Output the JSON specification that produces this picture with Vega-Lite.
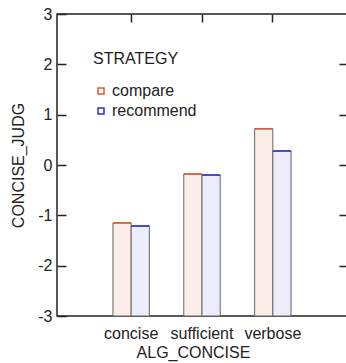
{
  "$schema": "https://vega.github.io/schema/vega-lite/v6.json",
  "width": 290,
  "height": 302,
  "autosize": "none",
  "padding": {"left": 57, "top": 14, "right": 0, "bottom": 47},
  "config": {
    "font": "Liberation Sans",
    "view": {"stroke": "#222", "strokeWidth": 1.5},
    "axis": {
      "labelFontSize": 16,
      "titleFontSize": 16,
      "titleFontWeight": "normal",
      "labelColor": "#222",
      "titleColor": "#222",
      "grid": false,
      "domain": false,
      "ticks": true,
      "tickColor": "#222",
      "tickWidth": 1.5,
      "zindex": 2
    }
  },
  "data": {
    "values": [
      {"ALG_CONCISE": "concise", "STRATEGY": "compare", "CONCISE_JUDG": -1.15},
      {"ALG_CONCISE": "concise", "STRATEGY": "recommend", "CONCISE_JUDG": -1.21},
      {"ALG_CONCISE": "sufficient", "STRATEGY": "compare", "CONCISE_JUDG": -0.18},
      {"ALG_CONCISE": "sufficient", "STRATEGY": "recommend", "CONCISE_JUDG": -0.2},
      {"ALG_CONCISE": "verbose", "STRATEGY": "compare", "CONCISE_JUDG": 0.72},
      {"ALG_CONCISE": "verbose", "STRATEGY": "recommend", "CONCISE_JUDG": 0.28}
    ]
  },
  "layer": [
    {
      "mark": {"type": "bar", "stroke": "#666", "strokeWidth": 1},
      "encoding": {
        "x": {
          "field": "ALG_CONCISE",
          "type": "nominal",
          "sort": ["concise", "sufficient", "verbose"],
          "scale": {"paddingInner": 0.486, "paddingOuter": 0.79},
          "axis": {
            "orient": "bottom",
            "title": "ALG_CONCISE",
            "labelAngle": 0,
            "ticks": false,
            "tickSize": 0,
            "labelPadding": 9,
            "titleX": 136,
            "titleY": 41,
            "titleBaseline": "alphabetic",
            "titleAlign": "center"
          }
        },
        "xOffset": {
          "field": "STRATEGY",
          "type": "nominal",
          "scale": {"paddingInner": 0, "paddingOuter": 0}
        },
        "y": {
          "field": "CONCISE_JUDG",
          "type": "quantitative",
          "scale": {"domain": [-3, 3], "nice": false, "zero": false},
          "axis": {
            "orient": "left",
            "values": [-3, -2, -1, 0, 1, 2, 3],
            "labelExpr": "'' + datum.value",
            "ticks": true,
            "tickSize": -9,
            "labelPadding": 14,
            "title": "CONCISE_JUDG",
            "titleX": -39,
            "titleY": 151,
            "titleAngle": -90,
            "titleBaseline": "middle",
            "titleAlign": "center"
          }
        },
        "y2": {"datum": -3},
        "fill": {
          "field": "STRATEGY",
          "type": "nominal",
          "scale": {"range": ["#fcede8", "#ececfb"]},
          "legend": null
        }
      }
    },
    {
      "mark": {"type": "bar", "fill": "transparent", "strokeWidth": 1.5},
      "encoding": {
        "x": {
          "field": "ALG_CONCISE",
          "type": "nominal",
          "sort": ["concise", "sufficient", "verbose"],
          "axis": {"orient": "top", "labels": false, "title": null, "ticks": true, "tickSize": -8}
        },
        "xOffset": {"field": "STRATEGY", "type": "nominal"},
        "y": {
          "field": "CONCISE_JUDG",
          "type": "quantitative",
          "axis": {"orient": "right", "labels": false, "title": null, "ticks": true, "tickSize": -8, "tickColor": "#222", "tickWidth": 1.5, "values": [-2, -1, 0, 1, 2]}
        },
        "y2": {"field": "CONCISE_JUDG"},
        "stroke": {
          "field": "STRATEGY",
          "type": "nominal",
          "scale": {"range": ["#e2582e", "#2b2bd0"]},
          "legend": {
            "orient": "none",
            "legendX": 36,
            "legendY": 37,
            "title": "STRATEGY",
            "titleFontSize": 16,
            "titleFontWeight": "normal",
            "titleColor": "#222",
            "titlePadding": 16,
            "labelFontSize": 16,
            "labelColor": "#222",
            "symbolType": "square",
            "symbolSize": 36,
            "symbolStrokeWidth": 1.5,
            "labelOffset": 3,
            "rowPadding": 4,
            "padding": 0,
            "encode": {"symbols": {"update": {"fill": {"value": "#f7f2f2"}}}}
          }
        }
      }
    }
  ],
  "resolve": {"axis": {"x": "independent", "y": "independent"}}
}
